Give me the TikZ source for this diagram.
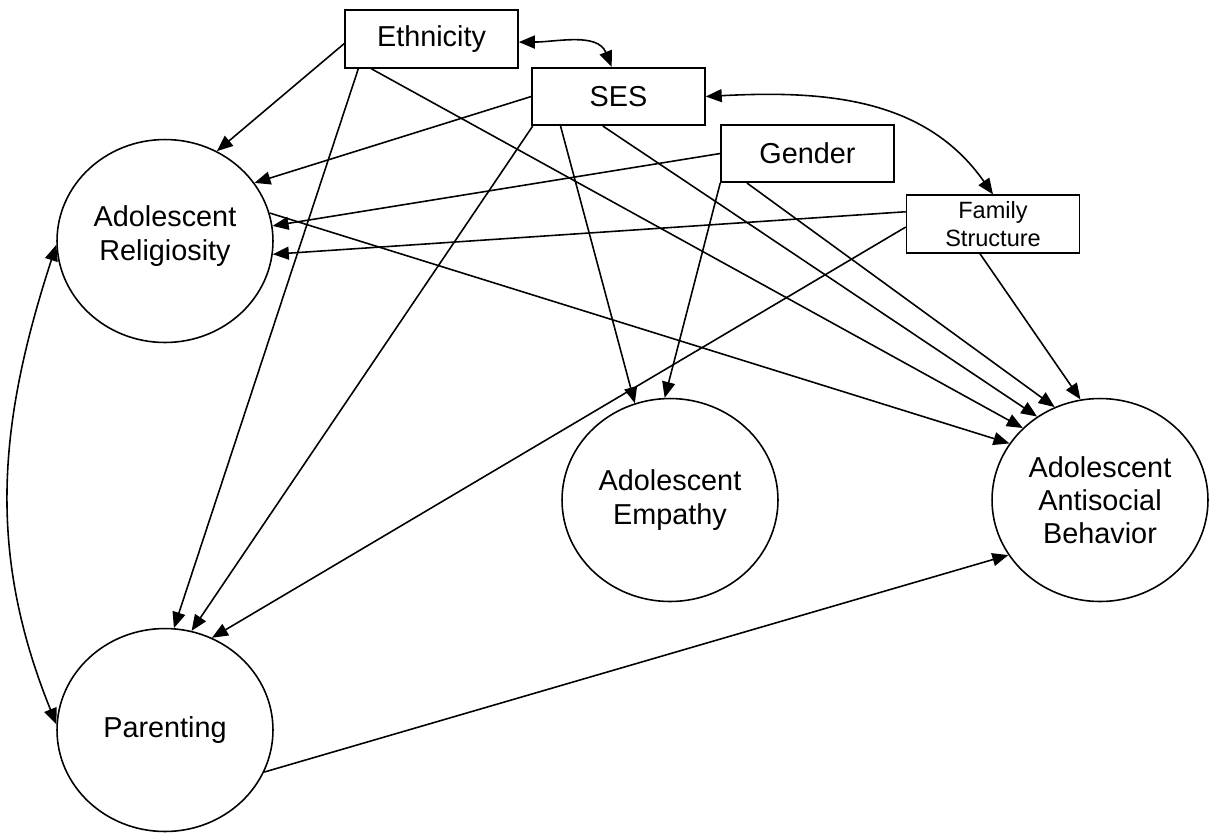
\documentclass[tikz,border=0pt]{standalone}
\usepackage{fontspec}
\setmainfont{Liberation Sans}
\usetikzlibrary{arrows.meta,shapes.geometric}
\tikzset{>={Triangle[length=.32cm,width=.26cm]},every node/.style={font=\fontsize{16.4}{18.9}\selectfont},
 latent/.style={draw,ellipse,line width=.9pt,minimum width=4.32cm,minimum height=4.06cm,align=center,inner sep=0pt},
 obsv/.style={draw,rectangle,line width=.9pt,minimum width=3.46cm,minimum height=1.15cm,align=center,inner sep=1pt},
 effect/.style={line width=.9pt,->},cov/.style={line width=.9pt,<->}}
\begin{document}
\begin{tikzpicture}[x=.02cm,y=-.02cm]
\useasboundingbox (0,0) rectangle (1213,833);
% covariates
\node[obsv] (eth) at (431.5,39){Ethnicity};
\node[obsv] (ses) at (618.5,96.5){SES};
\node[obsv] (gen) at (807.5,153.5){Gender};
\node[obsv,font=\fontsize{13.4}{15.5}\selectfont] (fam) at (993,224){Family\\Structure};
% latent variables
\node[latent] (rel) at (165,241){Adolescent\\Religiosity\\[-.6em]};
\node[latent] (par) at (165,730){Parenting};
\node[latent] (emp) at (670,500){Adolescent\\Empathy};
\node[latent] (ant) at (1100,500){Adolescent\\Antisocial\\Behavior};
% correlations
\draw[cov] (eth.-2) to[out=0,in=112] (ses.103);
\draw[cov] (ses.0) to[out=3,in=125] (fam.north);
\draw[cov] (rel.182) to[out=252,in=112] (par.177);
% paths
\draw[effect] (eth.183)--(rel.60);
\draw[effect] (eth.202)--(par.85);
\draw[effect] (eth.206)--(ant.137);
\draw[effect] (ses.west)--(rel.33);
\draw[effect] (ses.199)--(par.75);
\draw[effect] (ses.207)--(emp.110);
\draw[effect] (ses.242)--(ant.127);
\draw[effect] (gen.west)--(rel.8);
\draw[effect] (gen.south west)--(emp.93);
\draw[effect] (gen.206)--(ant.116);
\draw[effect] (fam.172)--(rel.-7);
\draw[effect] (fam.182)--(par.63);
\draw[effect] (fam.246)--(ant.101);
\draw[effect] (rel.15)--(ant.148);
\draw[effect] (par.-23)--(ant.211);
\end{tikzpicture}
\end{document}
